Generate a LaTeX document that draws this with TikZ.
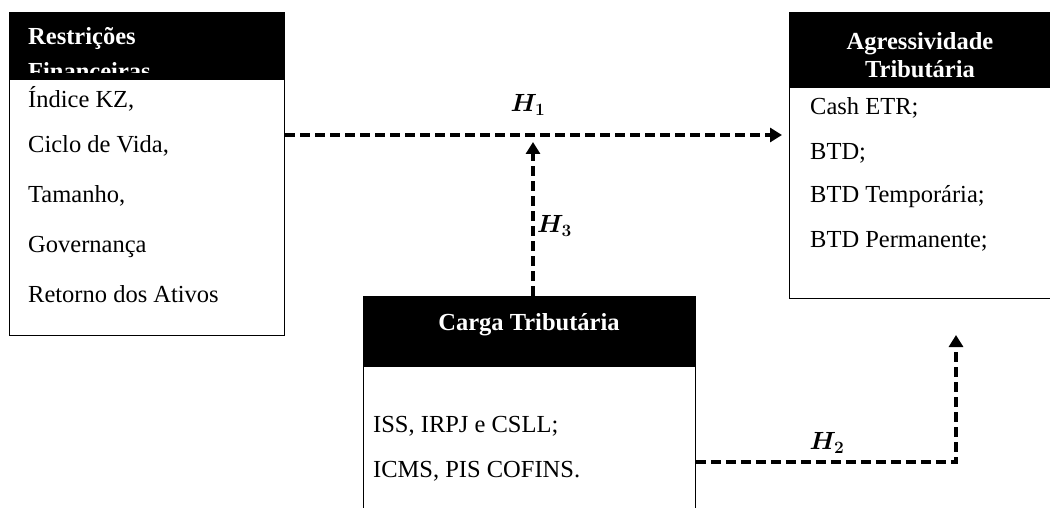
\documentclass[tikz,border=0pt]{standalone}
\usepackage{fontspec}
\setmainfont{Liberation Serif}
\usetikzlibrary{arrows.meta}
\begin{document}
\begin{tikzpicture}[x=1pt,y=-1pt,
    every node/.style={inner sep=0pt,font=\fontsize{24.5}{29}\selectfont},
    boxframe/.style={draw,line width=1.3pt,fill=white,anchor=north west},
    headbar/.style={fill=black,anchor=north west},
    headtext/.style={text=white,font=\fontsize{24.5}{29}\selectfont\bfseries,anchor=base},
    item/.style={anchor=base west},
    hyp/.style={line width=3.2pt,dash pattern=on 10pt off 5pt,-{Triangle[length=12pt,width=14pt]}},
    hlabel/.style={font=\fontsize{26}{30}\selectfont\boldmath}]
    \useasboundingbox (0,0) rectangle (1050,508);

    % Restricoes Financeiras
    \node[boxframe,minimum width=275pt,minimum height=323pt] (rf) at (9,12) {};
    \node[headbar,minimum width=275pt,minimum height=68pt] (rfh) at (9,12) {};
    \begin{scope}
        \clip (9,12) rectangle (284,73);
        \node[headtext,anchor=base west] (rft1) at (28,45) {Restrições};
        \node[headtext,anchor=base west] (rft2) at (28,80) {Financeiras};
    \end{scope}
    \node[item] (rf1) at (28,108) {Índice KZ,};
    \node[item] (rf2) at (28,153) {Ciclo de Vida,};
    \node[item] (rf3) at (28,203) {Tamanho,};
    \node[item] (rf4) at (28,252) {Governança};
    \node[item] (rf5) at (28,302) {Retorno dos Ativos};

    % Agressividade Tributaria
    \node[boxframe,minimum width=280pt,minimum height=286pt] (ag) at (789,12) {};
    \node[headbar,minimum width=280pt,minimum height=76pt] (agh) at (789,12) {};
    \node[headtext] (agt1) at (920,50) {Agressividade};
    \node[headtext] (agt2) at (920,78) {Tributária};
    \node[item] (ag1) at (810,115) {Cash ETR;};
    \node[item] (ag2) at (810,160) {BTD;};
    \node[item] (ag3) at (810,203) {BTD Temporária;};
    \node[item] (ag4) at (810,247) {BTD Permanente;};

    % Carga Tributaria
    \node[boxframe,minimum width=332pt,minimum height=240pt] (ct) at (363,296) {};
    \node[headbar,minimum width=332pt,minimum height=71pt] (cth) at (363,296) {};
    \node[headtext] (ctt) at (529,330) {Carga Tributária};
    \node[item] (ct1) at (373,432) {ISS, IRPJ e CSLL;};
    \node[item] (ct2) at (373,477) {ICMS, PIS COFINS.};

    % hipoteses
    \coordinate (h1) at (533,135);
    \coordinate (h2) at (956,462);
    \coordinate (h2end) at (956,335);
    \draw[hyp,shorten >=7pt] (rf.east |- h1) -- (ag.west |- h1);
    \draw[hyp,shorten >=7pt] (h1 |- ct.north) -- (h1);
    \draw[hyp] (ct.east |- h2) -| (h2end);

    \node[hlabel] (l1) at (528,105) {$H_1$};
    \node[hlabel,anchor=west] (l3) at (537,226) {$H_3$};
    \node[hlabel] (l2) at (827,443) {$H_2$};
\end{tikzpicture}
\end{document}
